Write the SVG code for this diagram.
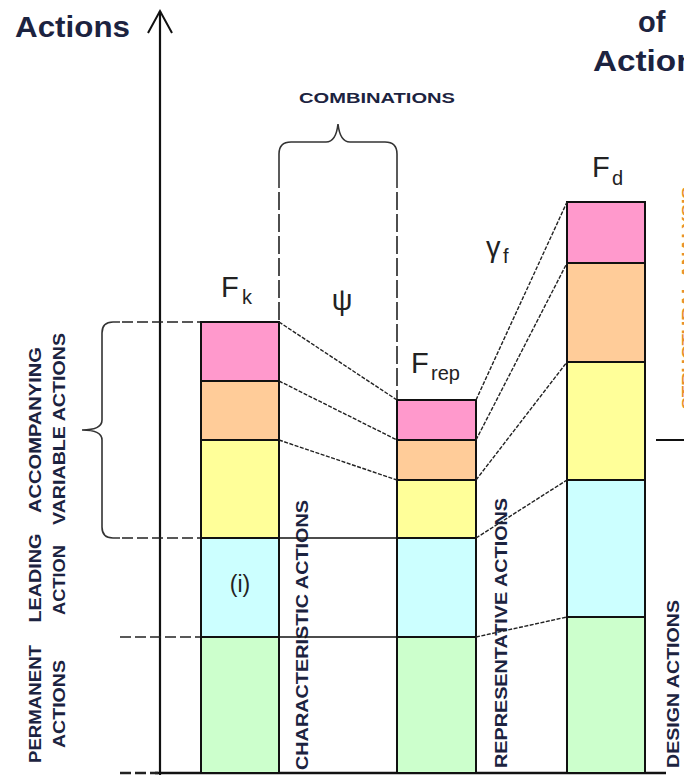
<svg xmlns="http://www.w3.org/2000/svg" width="684" height="776" viewBox="0 0 684 776">
<style>
text{font-family:"Liberation Sans",Arial,sans-serif;fill:#1c2340}
.b{font-weight:bold}
.lbl{font-weight:bold;font-size:16.5px}
.sym{fill:#222;font-size:29px}
.sub{fill:#222;font-size:20px}
.seg{stroke:#111;stroke-width:2}
.pk{fill:#ff99cc}.or{fill:#ffcc99}.ye{fill:#ffff99}.cy{fill:#ccffff}.gr{fill:#ccffcc}
.con{stroke:#222;stroke-width:1.4;stroke-dasharray:4 1.5;fill:none}
.dash{stroke:#222;stroke-width:1.6;stroke-dasharray:11 4;fill:none}
.vdash{stroke:#222;stroke-width:1.6;stroke-dasharray:18 4;fill:none}
.br{stroke:#333;stroke-width:1.6;fill:none}
</style>

<g id="titles">
<text class="b" x="15" y="37" font-size="29" textLength="115" lengthAdjust="spacingAndGlyphs">Actions</text>
<text class="b" x="638" y="32" font-size="29">of</text>
<text class="b" x="593" y="71" font-size="30" textLength="122" lengthAdjust="spacingAndGlyphs">Actions</text>
<text x="692" y="298" font-size="14" font-weight="bold" style="fill:#e8902a" text-anchor="middle" transform="rotate(-90 692 298)" textLength="223" lengthAdjust="spacingAndGlyphs">STRUCTURAL ANALYSIS</text>
</g>

<g id="axis">
<line x1="160" y1="11" x2="160" y2="775" stroke="#111" stroke-width="2.2"/>
<path d="M148,33 L160,11 L172,33" fill="none" stroke="#111" stroke-width="2"/>
<line x1="155" y1="773" x2="666" y2="773" stroke="#111" stroke-width="2.6"/>
</g>

<g id="left-guides">
<path class="br" d="M120,322 L113,322 Q102,322 102,333 L102,420 Q102,430 82,430 Q102,430 102,440 L102,527 Q102,538 113,538 L120,538"/>
<line class="dash" x1="122" y1="322" x2="201" y2="322"/>
<line class="dash" x1="122" y1="538" x2="201" y2="538"/>
<line class="dash" x1="120" y1="637" x2="201" y2="637"/>
<line class="dash" x1="120" y1="773" x2="158" y2="773" style="stroke-width:2.4"/>
</g>

<g id="left-labels">
<text class="lbl" text-anchor="middle" transform="translate(41,430) rotate(-90)" textLength="166" lengthAdjust="spacingAndGlyphs">ACCOMPANYING</text>
<text class="lbl" text-anchor="middle" transform="translate(65,429) rotate(-90)" textLength="192" lengthAdjust="spacingAndGlyphs">VARIABLE ACTIONS</text>
<text class="lbl" text-anchor="middle" transform="translate(41,578) rotate(-90)" textLength="89" lengthAdjust="spacingAndGlyphs">LEADING</text>
<text class="lbl" text-anchor="middle" transform="translate(65,580) rotate(-90)" textLength="70" lengthAdjust="spacingAndGlyphs">ACTION</text>
<text class="lbl" text-anchor="middle" transform="translate(41,704) rotate(-90)" textLength="118" lengthAdjust="spacingAndGlyphs">PERMANENT</text>
<text class="lbl" text-anchor="middle" transform="translate(65,704) rotate(-90)" textLength="88" lengthAdjust="spacingAndGlyphs">ACTIONS</text>
</g>

<g id="combinations">
<text class="b" x="299" y="103" font-size="14.5" textLength="156" lengthAdjust="spacingAndGlyphs">COMBINATIONS</text>
<path class="br" d="M279,188 L279,154 Q279,142 291,142 L326,142 Q336,142 338,124 Q340,142 350,142 L385,142 Q397,142 397,154 L397,188"/>
<line class="vdash" x1="279" y1="192" x2="279" y2="322"/>
<line class="vdash" x1="397" y1="192" x2="397" y2="400"/>
<text class="sym" x="342" y="310" text-anchor="middle" font-size="30">ψ</text>
</g>

<g id="Fk">
<rect class="pk seg" x="201" y="322" width="78" height="59"/>
<rect class="or seg" x="201" y="381" width="78" height="59"/>
<rect class="ye seg" x="201" y="440" width="78" height="98"/>
<rect class="cy seg" x="201" y="538" width="78" height="99"/>
<rect class="gr seg" x="201" y="637" width="78" height="136"/>
<text class="sym" x="221" y="297">F</text>
<text class="sub" x="242" y="304">k</text>
<text x="240" y="592" font-size="23" text-anchor="middle" style="fill:#222">(i)</text>
</g>

<g id="characteristic">
<line x1="279" y1="322" x2="279" y2="773" stroke="#111" stroke-width="2"/>
<text class="lbl" text-anchor="middle" transform="translate(308,635) rotate(-90)" textLength="270" lengthAdjust="spacingAndGlyphs">CHARACTERISTIC ACTIONS</text>
</g>

<g id="Frep">
<rect class="pk seg" x="397" y="400" width="79" height="40"/>
<rect class="or seg" x="397" y="440" width="79" height="40"/>
<rect class="ye seg" x="397" y="480" width="79" height="58"/>
<rect class="cy seg" x="397" y="538" width="79" height="99"/>
<rect class="gr seg" x="397" y="637" width="79" height="136"/>
<text class="sym" x="411" y="373">F</text>
<text class="sub" x="431" y="380">rep</text>
</g>

<g id="representative">
<text class="lbl" text-anchor="middle" transform="translate(507,633) rotate(-90)" textLength="270" lengthAdjust="spacingAndGlyphs">REPRESENTATIVE ACTIONS</text>
<text class="sym" x="486" y="257" font-size="29">γ</text>
<text class="sub" x="503" y="263" font-size="19">f</text>
</g>

<g id="Fd">
<rect class="pk seg" x="567" y="202" width="78" height="61"/>
<rect class="or seg" x="567" y="263" width="78" height="99"/>
<rect class="ye seg" x="567" y="362" width="78" height="118"/>
<rect class="cy seg" x="567" y="480" width="78" height="137"/>
<rect class="gr seg" x="567" y="617" width="78" height="156"/>
<text class="sym" x="592" y="177">F</text>
<text class="sub" x="612" y="185">d</text>
</g>

<g id="design">
<line x1="656" y1="440" x2="684" y2="440" stroke="#111" stroke-width="2"/>
<text class="lbl" text-anchor="middle" transform="translate(679,684) rotate(-90)" textLength="168" lengthAdjust="spacingAndGlyphs">DESIGN ACTIONS</text>
</g>

<g id="connectors">
<line class="con" x1="279" y1="322" x2="397" y2="400"/>
<line class="con" x1="279" y1="381" x2="397" y2="440"/>
<line class="con" x1="279" y1="440" x2="397" y2="480"/>
<line class="con" x1="279" y1="538" x2="397" y2="538" style="stroke-dasharray:none;stroke:#111"/>
<line class="con" x1="279" y1="637" x2="397" y2="637" style="stroke-dasharray:none;stroke:#111"/>
<line class="con" x1="476" y1="400" x2="567" y2="202"/>
<line class="con" x1="476" y1="440" x2="567" y2="263"/>
<line class="con" x1="476" y1="480" x2="567" y2="362"/>
<line class="con" x1="476" y1="538" x2="567" y2="480"/>
<line class="con" x1="476" y1="637" x2="567" y2="617"/>
</g>
</svg>
